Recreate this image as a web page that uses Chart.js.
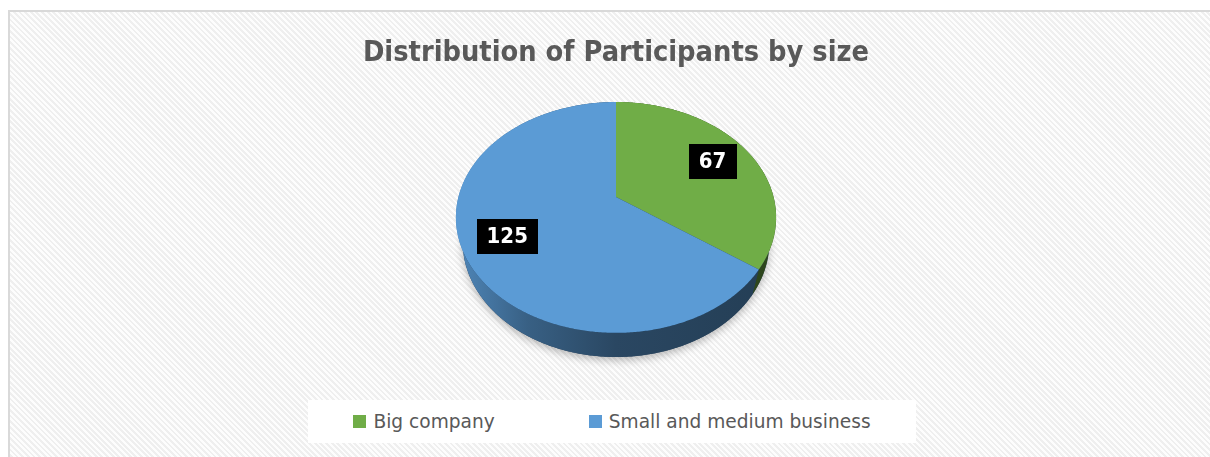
<!DOCTYPE html>
<html>
<head>
<meta charset="utf-8">
<title>Distribution of Participants by size</title>
<script src="https://cdn.jsdelivr.net/npm/chart.js@4/dist/chart.umd.min.js"></script>
<style>
  html, body { margin: 0; padding: 0; width: 1210px; height: 457px; overflow: hidden; background: #ffffff; }
  #frame {
    position: absolute; left: 8px; top: 10px; width: 1220px; height: 470px;
    border-left: 2px solid #d9d9d9; border-top: 2px solid #d9d9d9;
    background: repeating-linear-gradient(45deg, #fdfdfd 0px, #fdfdfd 2px, #efefef 2px, #efefef 4px);
  }
  #chart { position: absolute; left: 0; top: 0; }
  #legend {
    position: absolute; left: 298px; top: 388px; width: 608px; height: 43px;
    background: #ffffff; display: flex; align-items: center; justify-content: center; gap: 94px;
    font-family: "DejaVu Sans", sans-serif; font-size: 18.6px; color: #595959;
  }
  #legend .item { display: flex; align-items: center; white-space: nowrap; }
  #legend .swatch { width: 13px; height: 13px; margin-right: 7px; flex: none; }
</style>
</head>
<body>
<div id="frame">
  <canvas id="chart" width="1206" height="445"></canvas>
  <div id="legend"></div>
</div>
<script>
// Participants split by company size
const categories = ['Big company', 'Small and medium business'];
const participants = [67, 125];
const sliceColors = ['#70AD47', '#5B9BD5'];
const chartTitle = 'Distribution of Participants by size';

// Viewpoint of the tilted disc
const TILT = 45.2 * Math.PI / 180; // elevation of the eye above the disc plane
const DIST = 3.97;                 // eye distance, in disc radii
const THICK = 0.241;               // disc thickness, in disc radii
const LABEL_RADIUS = 0.73;         // label anchor, fraction of the radius

function shade(hex, f) {
  const n = parseInt(hex.slice(1), 16);
  const r = Math.round(((n >> 16) & 255) * f);
  const g = Math.round(((n >> 8) & 255) * f);
  const b = Math.round((n & 255) * f);
  return `rgb(${r},${g},${b})`;
}

// Perspective projection of a point (u, v) on the unit disc at height z,
// scaled so the whole disc fills the chart area's height
function makeProjector(area) {
  const sn = Math.sin(TILT), cs = Math.cos(TILT);
  const ft = sn / (DIST + cs);
  const fb = (sn + THICK * cs) / (DIST - cs + THICK * sn);
  const k = (area.bottom - area.top) / (ft + fb);
  const cx = (area.left + area.right) / 2;
  const cy = area.top + k * ft;
  const proj = (u, v, z) => {
    const yc = v * sn - z * cs;
    const zc = DIST - v * cs - z * sn;
    return [cx + k * u / zc, cy + k * yc / zc];
  };
  proj.cx = cx; proj.R = k / DIST;
  return proj;
}

function rimPoints(proj, a0, a1, z, r = 1) {
  const pts = [];
  const steps = Math.max(2, Math.ceil(Math.abs(a1 - a0) / (Math.PI / 360)));
  for (let i = 0; i <= steps; i++) {
    const a = a0 + (a1 - a0) * i / steps;
    pts.push(proj(r * Math.cos(a), r * Math.sin(a), z));
  }
  return pts;
}

function tracePath(ctx, pts) {
  ctx.beginPath();
  pts.forEach((p, i) => i ? ctx.lineTo(p[0], p[1]) : ctx.moveTo(p[0], p[1]));
  ctx.closePath();
}

const pie3d = {
  id: 'pie3d',
  beforeDatasetDraw() { return false; },
  afterDatasetsDraw(chart) {
    const ctx = chart.ctx;
    const meta = chart.getDatasetMeta(0);
    const proj = makeProjector(chart.chartArea);
    const arcs = meta.data;
    const colors = chart.data.datasets[0].backgroundColor;

    ctx.save();
    // soft shadow beneath the disc
    ctx.save();
    ctx.shadowColor = 'rgba(0,0,0,0.28)';
    ctx.shadowBlur = 9;
    ctx.shadowOffsetY = 3;
    tracePath(ctx, rimPoints(proj, 0, Math.PI * 2, -THICK));
    ctx.fillStyle = '#203a55';
    ctx.fill();
    ctx.restore();

    // outer walls
    arcs.forEach((el, i) => {
      const top = rimPoints(proj, el.startAngle, el.endAngle, 0);
      const bot = rimPoints(proj, el.startAngle, el.endAngle, -THICK).reverse();
      const g = ctx.createLinearGradient(proj.cx - proj.R, 0, proj.cx + proj.R, 0);
      g.addColorStop(0, shade(colors[i], 0.86));
      g.addColorStop(0.22, shade(colors[i], 0.62));
      g.addColorStop(0.5, shade(colors[i], 0.46));
      g.addColorStop(1, shade(colors[i], 0.40));
      tracePath(ctx, top.concat(bot));
      ctx.fillStyle = g;
      ctx.fill();
    });

    // top faces
    arcs.forEach((el, i) => {
      tracePath(ctx, [proj(0, 0, 0)].concat(rimPoints(proj, el.startAngle, el.endAngle, 0)));
      ctx.fillStyle = colors[i];
      ctx.fill();
    });

    // value labels
    ctx.font = 'bold 22px "DejaVu Sans Condensed", "DejaVu Sans", sans-serif';
    ctx.textAlign = 'center';
    ctx.textBaseline = 'middle';
    arcs.forEach((el, i) => {
      const mid = (el.startAngle + el.endAngle) / 2;
      const p = proj(LABEL_RADIUS * Math.cos(mid), LABEL_RADIUS * Math.sin(mid), 0);
      const text = String(chart.data.datasets[0].data[i]);
      const w = ctx.measureText(text).width + 20;
      const h = 35;
      ctx.fillStyle = '#000000';
      ctx.fillRect(Math.round(p[0] - w / 2), Math.round(p[1] - h / 2), Math.round(w), h);
      ctx.fillStyle = '#ffffff';
      ctx.fillText(text, p[0], p[1] + 1);
    });
    ctx.restore();
  }
};

const chart = new Chart(document.getElementById('chart'), {
  type: 'pie',
  data: {
    labels: categories,
    datasets: [{ data: participants, backgroundColor: sliceColors, borderWidth: 0 }]
  },
  options: {
    responsive: false,
    animation: false,
    layout: { padding: { left: 6, right: 0, top: 0, bottom: 100 } },
    plugins: {
      title: {
        display: true,
        text: chartTitle,
        color: '#595959',
        font: { family: '"DejaVu Sans Condensed", "DejaVu Sans", sans-serif', size: 28.7, weight: 'bold', lineHeight: 1.2 },
        padding: { top: 24, bottom: 31.56 }
      },
      legend: { display: false },
      tooltip: { enabled: false }
    }
  },
  plugins: [pie3d]
});

// legend entries built from the chart's own legend items
const legendEl = document.getElementById('legend');
chart.options.plugins.legend.labels.generateLabels(chart).forEach(item => {
  const row = document.createElement('div');
  row.className = 'item';
  const sw = document.createElement('span');
  sw.className = 'swatch';
  sw.style.background = item.fillStyle;
  const label = document.createElement('span');
  label.textContent = item.text;
  row.appendChild(sw);
  row.appendChild(label);
  legendEl.appendChild(row);
});
</script>
</body>
</html>
